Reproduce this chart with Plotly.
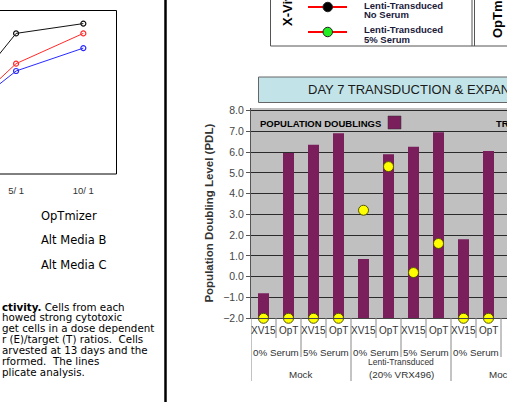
import plotly.graph_objects as go

W, H = 507, 402

# ---------------- Left chart (cytotoxicity, partially visible) ----------------
et_pos = [1, 2, 3]
et_labels = ["2.5/ 1", "5/ 1", "10/ 1"]
lysis_black = [35, 86, 92]
lysis_red = [29, 67.5, 86]
lysis_blue = [30.5, 63, 77]
left_legend = ["OpTmizer", "Alt Media B", "Alt Media C"]

caption_lines = [
    "<b>ctivity.</b> Cells from each",
    "howed strong cytotoxic",
    "get cells in a dose dependent",
    "r (E)/target (T) ratios.  Cells",
    "arvested at 13 days and the",
    "rformed.  The lines",
    "plicate analysis.",
]

# ---------------- Right chart (Day 7 transduction & expansion) ----------------
media = ["XV15", "OpT", "XV15", "OpT", "XV15", "OpT", "XV15", "OpT", "XV15", "OpT", "XV15", "OpT"]
serum = ["0% Serum", "5% Serum", "0% Serum", "5% Serum", "0% Serum", "5% Serum"]
group_top = ["", "Lenti-Transduced", ""]
group_bottom = ["Mock", "(20% VRX496)", "Mock"]
pdl = [-0.8, 5.95, 6.35, 6.9, 0.85, 5.9, 6.25, 6.95, 1.8, 6.05, None, None]
transduction = [-2.0, -2.0, -2.0, -2.0, 3.2, 5.3, 0.2, 1.6, -2.0, -2.0, None, None]
y_ticks = [-2, -1, 0, 1, 2, 3, 4, 5, 6, 7, 8]
Y_MIN, Y_MAX = -2.0, 8.12


def px(x):
    return x / W


def py(y):
    return 1 - y / H


fig = go.Figure()

for vals, col in [(lysis_black, "#111111"), (lysis_red, "#ff2a2a"), (lysis_blue, "#2a2aff")]:
    fig.add_trace(go.Scatter(
        x=et_pos, y=vals, mode="lines+markers", xaxis="x", yaxis="y",
        line=dict(color=col, width=1),
        marker=dict(symbol="circle-open", size=5, color=col, line=dict(width=1.2)),
        showlegend=False, hoverinfo="skip",
    ))

cats = list(range(len(media)))
fig.add_trace(go.Bar(
    x=cats, y=[None if v is None else v - Y_MIN for v in pdl], base=Y_MIN,
    xaxis="x2", yaxis="y2", width=0.44,
    marker=dict(color="#7a1e5c", line=dict(width=0)),
    showlegend=False, hoverinfo="skip",
))
fig.add_trace(go.Scatter(
    x=cats, y=transduction, mode="markers", xaxis="x2", yaxis="y2",
    marker=dict(size=10, color="#ffff00", line=dict(color="#555500", width=1)),
    cliponaxis=False, showlegend=False, hoverinfo="skip",
))

shapes = []
annotations = []

# left chart frame (left edge is off-page)
shapes.append(dict(type="rect", xref="x domain", yref="y domain", x0=-0.3, x1=1, y0=0, y1=1,
                   line=dict(color="#000000", width=1), layer="above"))

# thick vertical separator
shapes.append(dict(type="line", xref="paper", yref="paper", x0=px(165.5), x1=px(165.5), y0=0, y1=1,
                   line=dict(color="#000000", width=2.5)))

# legend box at top right
shapes.append(dict(type="rect", xref="paper", yref="paper", x0=px(270.5), x1=px(530), y0=py(46), y1=py(-10),
                   line=dict(color="#555555", width=1)))
for xx in (472, 474.5):
    shapes.append(dict(type="line", xref="paper", yref="paper", x0=px(xx), x1=px(xx), y0=py(46), y1=py(-10),
                       line=dict(color="#555555", width=1)))
for yy, mcol in [(7, "#000000"), (32, "#22ee22")]:
    shapes.append(dict(type="line", xref="paper", yref="paper", x0=px(308), x1=px(347), y0=py(yy), y1=py(yy),
                       line=dict(color="#ff0000", width=2)))
    shapes.append(dict(type="circle", xref="paper", yref="paper", x0=px(323), x1=px(332.5),
                       y0=py(yy + 4.75), y1=py(yy - 4.75),
                       fillcolor=mcol, line=dict(color="#222222", width=1)))
annotations.append(dict(text="<b>X-Vivo 15</b>", textangle=-90, xref="paper", yref="paper",
                        x=px(287), y=py(28), xanchor="center", yanchor="bottom", showarrow=False,
                        font=dict(family="Liberation Sans", size=13, color="#000000")))
annotations.append(dict(text="<b>OpTmizer</b>", textangle=-90, xref="paper", yref="paper",
                        x=px(497), y=py(40), xanchor="center", yanchor="bottom", showarrow=False,
                        font=dict(family="Liberation Sans", size=13, color="#000000")))
for txt, yy in [("Lenti-Transduced", 5), ("No Serum", 15), ("Lenti-Transduced", 29.5), ("5% Serum", 39.5)]:
    annotations.append(dict(text="<b>" + txt + "</b>", xref="paper", yref="paper", x=px(362), y=py(yy),
                            xanchor="left", yanchor="middle", showarrow=False,
                            font=dict(family="Liberation Sans", size=9.5, color="#1a1a3a")))

# title box
shapes.append(dict(type="rect", xref="paper", yref="paper", x0=px(258.5), x1=px(530), y0=py(102.5), y1=py(77),
                   fillcolor="#c2e4e8", line=dict(color="#666666", width=1)))
annotations.append(dict(text="DAY 7 TRANSDUCTION &amp; EXPANSION", xref="paper", yref="paper",
                        x=px(306), y=py(90), xanchor="left", yanchor="middle", showarrow=False,
                        font=dict(family="Liberation Sans", size=13, color="#1a1a1a")))

# gray plot background of the bar chart
shapes.append(dict(type="rect", xref="x2 domain", yref="y2 domain", x0=0, x1=1, y0=0, y1=1,
                   fillcolor="#c0c0c0", line=dict(width=0), layer="below"))

# in-plot legend labels
annotations.append(dict(text="<b>POPULATION DOUBLINGS</b>", xref="paper", yref="paper", x=px(258), y=py(123),
                        xanchor="left", yanchor="middle", showarrow=False,
                        font=dict(family="Liberation Sans", size=9.5, color="#000000")))
shapes.append(dict(type="rect", xref="paper", yref="paper", x0=px(388), x1=px(401), y0=py(129), y1=py(116),
                   fillcolor="#7a1e5c", line=dict(color="#333333", width=0.5)))
annotations.append(dict(text="<b>TRANSDUCTION EFFICIENCY</b>", xref="paper", yref="paper", x=px(494), y=py(123),
                        xanchor="left", yanchor="middle", showarrow=False,
                        font=dict(family="Liberation Sans", size=9.5, color="#000000")))

# multi-level category labels and dividers
for i, m in enumerate(media):
    annotations.append(dict(text=m, xref="x2", yref="paper", x=i, y=py(330.5), xanchor="center",
                            yanchor="middle", showarrow=False,
                            font=dict(family="Liberation Sans", size=10, color="#333333")))
for j, s in enumerate(serum):
    annotations.append(dict(text=s, xref="x2", yref="paper", x=2 * j + 0.5, y=py(352), xanchor="center",
                            yanchor="middle", showarrow=False,
                            font=dict(family="Liberation Sans", size=9.8, color="#333333")))
for k, (t, b) in enumerate(zip(group_top, group_bottom)):
    if t:
        annotations.append(dict(text=t, xref="x2", yref="paper", x=4 * k + 1.5, y=py(362), xanchor="center",
                                yanchor="middle", showarrow=False,
                                font=dict(family="Liberation Sans", size=8.5, color="#333333")))
    annotations.append(dict(text=b, xref="x2", yref="paper", x=4 * k + 1.5, y=py(374), xanchor="center",
                            yanchor="middle", showarrow=False,
                            font=dict(family="Liberation Sans", size=9.8, color="#333333")))
for k in range(len(media) + 1):
    bottom = 381 if k % 4 == 0 else (357 if k % 2 == 0 else 338)
    shapes.append(dict(type="line", xref="x2", yref="paper", x0=k - 0.5, x1=k - 0.5, y0=py(318), y1=py(bottom),
                       line=dict(color="#888888", width=1)))

# left chart legend labels and caption
for i, t in enumerate(left_legend):
    annotations.append(dict(text=t, xref="paper", yref="paper", x=px(38.5), y=py(216 + 24.3 * i),
                            xanchor="left", yanchor="middle", showarrow=False,
                            font=dict(family="DejaVu Sans", size=11.5, color="#000000")))
for i, t in enumerate(caption_lines):
    annotations.append(dict(text=t, xref="paper", yref="paper", x=px(0), y=py(306.5 + 10.95 * i),
                            xanchor="left", yanchor="middle", showarrow=False,
                            font=dict(family="DejaVu Sans", size=10.3, color="#000000")))

fig.update_layout(
    width=W, height=H, margin=dict(l=0, r=0, t=0, b=0, autoexpand=False),
    paper_bgcolor="#ffffff", plot_bgcolor="rgba(0,0,0,0)",
    showlegend=False,
    xaxis=dict(domain=[0, px(116.5)], range=[1.761, 3.493], tickvals=et_pos, ticktext=et_labels,
               anchor="y", automargin=False,
               ticks="", showgrid=False, zeroline=False, showline=False,
               ticklabelstandoff=9,
               tickfont=dict(family="Liberation Sans", size=9.5, color="#333333")),
    yaxis=dict(domain=[py(174), py(10.5)], range=[0, 100], visible=False, showgrid=False,
               anchor="x", automargin=False),
    xaxis2=dict(domain=[px(251), 1], range=[-0.5, 9.74], showticklabels=False, ticks="",
                anchor="y2", automargin=False,
                showgrid=False, zeroline=False, showline=True, linecolor="#444444", linewidth=1),
    yaxis2=dict(domain=[py(318.3), py(108)], range=[Y_MIN, Y_MAX], tickvals=y_ticks,
                anchor="x2", automargin=False,
                tickformat=".1f", ticks="outside", ticklen=4, tickcolor="#555555",
                showgrid=True, gridcolor="#2a2a2a", gridwidth=1, zeroline=False,
                showline=True, linecolor="#555555", linewidth=1,
                tickfont=dict(family="Liberation Sans", size=10.5, color="#444444"),
                title=dict(text="<b>Population Doubling Level (PDL)</b>", standoff=7,
                           font=dict(family="Liberation Sans", size=11.5, color="#333333"))),
    shapes=shapes, annotations=annotations,
)

fig.write_html("out.html")
